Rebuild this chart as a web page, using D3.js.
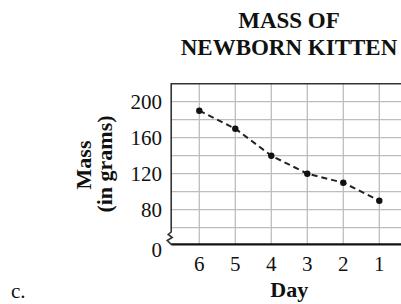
<!DOCTYPE html>
<meta charset="utf-8">
<script src="https://d3js.org/d3.v7.min.js"></script>
<style>
body { margin: 0; background: #fff; }
text { font-family: "Liberation Serif", "Times New Roman", serif; fill: #111; }
</style>
<body>
<script>

var width = 401
var height = 304

// data
var days = [6, 5, 4, 3, 2, 1]
var mass = [190, 170, 140, 120, 110, 90]
var yTicks = [80, 120, 160, 200]
var yGrid = [60, 80, 100, 120, 140, 160, 180, 200]
var titleLines = ["MASS OF", "NEWBORN KITTEN"]

var x = d3.scaleLinear().domain([6, 1]).range([199.3, 379.3])
var y = d3.scaleLinear().domain([60, 220]).range([227.7, 83.7])
var xLeft = x(6.78)
var xRight = x(0.1)
var yBase = 244.3   // the "0" line, below the axis break

var svg = d3.select("body").append("svg")
            .attr("width", width)
            .attr("height", height)

svg.append("g").attr("id", "grid")
svg.append("g").attr("id", "frame")
svg.append("g").attr("id", "marks")
svg.append("g").attr("id", "text")

// gridlines
svg.select("#grid").selectAll("line.h")
   .data(yGrid)
   .enter().append("line")
   .attr("class", "h")
   .attr("x1", xLeft)
   .attr("x2", xRight)
   .attr("y1", d => y(d))
   .attr("y2", d => y(d))
   .style("stroke", "#bdbdbd")
   .style("stroke-width", 1.3)

svg.select("#grid").selectAll("line.v")
   .data(days)
   .enter().append("line")
   .attr("class", "v")
   .attr("x1", d => x(d))
   .attr("x2", d => x(d))
   .attr("y1", y(220))
   .attr("y2", yBase)
   .style("stroke", "#bdbdbd")
   .style("stroke-width", 1.3)

// frame with zigzag break on the left side
var zig = d3.path()
zig.moveTo(xRight, y(220))
zig.lineTo(xLeft, y(220))
zig.lineTo(xLeft, 232)
zig.lineTo(xLeft - 3, 234.5)
zig.lineTo(xLeft + 1, 237.5)
zig.lineTo(xLeft - 4, 240.5)
zig.lineTo(xLeft, yBase)

svg.select("#frame").append("path")
   .attr("d", zig.toString())
   .style("fill", "none")
   .style("stroke", "#333")
   .style("stroke-width", 1.6)

svg.select("#frame").append("line")
   .attr("x1", xLeft)
   .attr("x2", xRight)
   .attr("y1", yBase)
   .attr("y2", yBase)
   .style("stroke", "#111")
   .style("stroke-width", 2.2)

// dashed line + dots
var line = d3.line()
             .x((d, i) => x(days[i]))
             .y(d => y(d))

svg.select("#marks").append("path")
   .attr("d", line(mass))
   .style("fill", "none")
   .style("stroke", "#222")
   .style("stroke-width", 2)
   .style("stroke-dasharray", "6,4")

svg.select("#marks").selectAll("circle")
   .data(mass)
   .enter().append("circle")
   .attr("cx", (d, i) => x(days[i]))
   .attr("cy", d => y(d))
   .attr("r", 3.2)
   .style("fill", "#111")

// y tick labels
svg.select("#text").selectAll("text.ytick")
   .data(yTicks)
   .enter().append("text")
   .attr("class", "ytick")
   .attr("x", 162)
   .attr("y", d => y(d))
   .attr("dy", "0.34em")
   .style("font-size", "21px")
   .style("text-anchor", "end")
   .text(d => d)

svg.select("#text").append("text")
   .attr("x", 162)
   .attr("y", yBase + 6)
   .attr("dy", "0.34em")
   .style("font-size", "21px")
   .style("text-anchor", "end")
   .text("0")

// x tick labels
svg.select("#text").selectAll("text.xtick")
   .data(days)
   .enter().append("text")
   .attr("class", "xtick")
   .attr("x", d => x(d))
   .attr("y", 271)
   .style("font-size", "21px")
   .style("text-anchor", "middle")
   .text(d => d)

// axis titles
svg.select("#text").append("text")
   .attr("transform", "translate(91," + 165 + ") rotate(-90)")
   .style("font-size", "22px")
   .style("font-weight", "bold")
   .style("text-anchor", "middle")
   .text("Mass")

svg.select("#text").append("text")
   .attr("transform", "translate(112," + 164 + ") rotate(-90)")
   .style("font-size", "22px")
   .style("font-weight", "bold")
   .style("text-anchor", "middle")
   .text("(in grams)")

svg.select("#text").append("text")
   .attr("x", (x(6) + x(1)) / 2)
   .attr("y", 297)
   .style("font-size", "22px")
   .style("font-weight", "bold")
   .style("text-anchor", "middle")
   .text("Day")

// title
svg.select("#text").selectAll("text.title")
   .data(titleLines)
   .enter().append("text")
   .attr("class", "title")
   .attr("x", 289)
   .attr("y", (d, i) => 28 + i * 27)
   .style("font-size", "23px")
   .style("font-weight", "bold")
   .style("text-anchor", "middle")
   .text(d => d)

// panel letter
svg.select("#text").append("text")
   .attr("x", 11)
   .attr("y", 298)
   .style("font-size", "21px")
   .text("c.")

</script>
</body>
